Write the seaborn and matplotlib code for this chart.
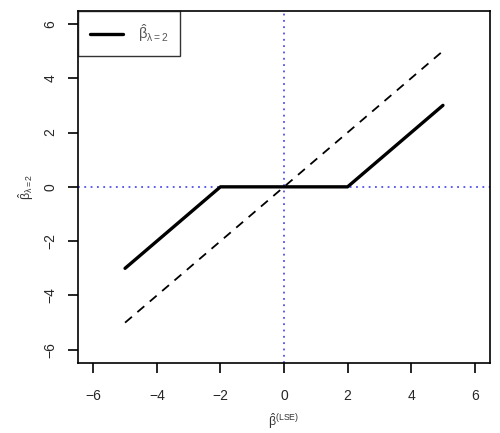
import numpy as np
import pandas as pd
import matplotlib
matplotlib.use("Agg")
import matplotlib.pyplot as plt
import seaborn as sns

# soft thresholding with lambda = 2
beta_lse = [-5, -2, 2, 5]
beta_soft = [-3, 0, 0, 3]
diag_x = [-5, 5]
diag_y = [-5, 5]
ticks = [-6, -4, -2, 0, 2, 4, 6]

sns.set_style("ticks")
plt.rcParams["font.family"] = ["Liberation Sans", "DejaVu Sans"]
plt.rcParams["mathtext.fontset"] = "custom"
plt.rcParams["mathtext.rm"] = "Liberation Sans"
plt.rcParams["mathtext.it"] = "Liberation Sans"

soft = pd.DataFrame({"x": beta_lse, "y": beta_soft})
diag = pd.DataFrame({"x": diag_x, "y": diag_y})

fig = plt.figure(figsize=(5.0, 4.33), dpi=100)
ax = fig.add_axes([0.156, 0.162, 0.824, 0.813])

ax.axvline(0, color="#5050f0", linestyle=(0, (1, 2.5)), lw=1.3, zorder=1)
ax.axhline(0, color="#5050f0", linestyle=(0, (1, 2.5)), lw=1.3, zorder=1)

sns.lineplot(data=diag, x="x", y="y", ax=ax, color="black", lw=1.3,
             linestyle=(0, (5, 4)), zorder=2)
sns.lineplot(data=soft, x="x", y="y", ax=ax, color="black", lw=2.4,
             label=r"$\hat{\beta}_{\lambda=2}$", zorder=3)

ax.set_xlim(-6.48, 6.48)
ax.set_ylim(-6.48, 6.48)
ax.set_xticks(ticks)
ax.set_yticks(ticks)
ax.set_xticklabels([f"{t}".replace("-", "\u2212") for t in ticks], fontsize=10)
ax.set_yticklabels([f"{t}".replace("-", "\u2212") for t in ticks], fontsize=10,
                   rotation=90, va="center")
ax.tick_params(direction="out", length=7, width=1.2, color="black")
ax.tick_params(axis="x", pad=12)
ax.tick_params(axis="y", pad=8)

for s in ax.spines.values():
    s.set_color("black")
    s.set_linewidth(1.2)

ax.set_xlabel(r"$\hat{\beta}^{(\mathrm{LSE})}$", fontsize=9, color="#333333",
              labelpad=6)
ax.set_ylabel(r"$\hat{\beta}_{\lambda=2}$", fontsize=9, color="#333333",
              labelpad=5)

leg = ax.legend(loc="upper left", frameon=True, fancybox=False,
                borderaxespad=0, handlelength=2.3, handletextpad=1.0,
                borderpad=0.8, fontsize=10.5)
leg.get_frame().set_edgecolor("black")
leg.get_frame().set_linewidth(1.0)
for t in leg.get_texts():
    t.set_color("#555555")

fig.savefig("out.png", dpi=100)
